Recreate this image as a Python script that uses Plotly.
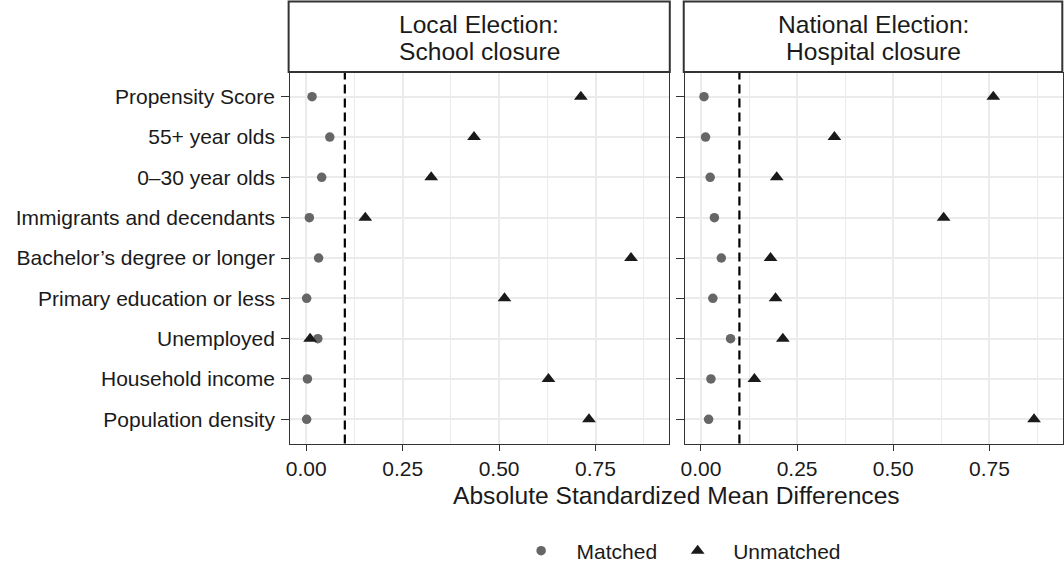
import plotly.graph_objects as go

# ---------------- data ----------------
covariates = [
    "Propensity Score",
    "55+ year olds",
    "0\u201330 year olds",
    "Immigrants and decendants",
    "Bachelor\u2019s degree or longer",
    "Primary education or less",
    "Unemployed",
    "Household income",
    "Population density",
]
panel_titles = [["Local Election:", "School closure"], ["National Election:", "Hospital closure"]]

local_matched = [0.015, 0.061, 0.040, 0.008, 0.032, 0.001, 0.030, 0.003, 0.001]
local_unmatched = [0.712, 0.435, 0.324, 0.153, 0.842, 0.514, 0.010, 0.628, 0.733]
national_matched = [0.008, 0.012, 0.024, 0.035, 0.053, 0.031, 0.077, 0.026, 0.020]
national_unmatched = [0.760, 0.347, 0.197, 0.631, 0.181, 0.194, 0.213, 0.139, 0.866]

threshold = 0.1
x_ticks = [0.0, 0.25, 0.5, 0.75]
x_tick_labels = ["0.00", "0.25", "0.50", "0.75"]
x_title = "Absolute Standardized Mean Differences"
legend_names = ["Matched", "Unmatched"]

# ---------------- styling ----------------
W, H = 1064, 572
FONT = "Liberation Sans, Arial, Helvetica, sans-serif"
TXT = "#1a1a1a"
GRID = "#ebebeb"
BORDER = "#333333"
C_MATCH = "#666666"
C_UNMATCH = "#1a1a1a"

def px_x(p):
    return p / W

def px_y(p):
    return 1 - p / H

panel_top, panel_bot = 72.5, 443.5
panels_px = [(287.3, 667.3), (683.5, 1062.5)]
xrange_ = [-0.0416, 0.94]

fig = go.Figure()

series = [(local_matched, local_unmatched), (national_matched, national_unmatched)]
for i, (m, u) in enumerate(series):
    xa = "x" if i == 0 else "x2"
    ya = "y" if i == 0 else "y2"
    fig.add_trace(go.Scatter(
        x=m, y=covariates, mode="markers", xaxis=xa, yaxis=ya,
        name=legend_names[0], legendgroup="m", showlegend=(i == 0),
        marker=dict(symbol="circle", size=9.5, color=C_MATCH),
        hoverinfo="skip"))
    fig.add_trace(go.Scatter(
        x=u, y=covariates, mode="markers", xaxis=xa, yaxis=ya,
        name=legend_names[1], legendgroup="u", showlegend=(i == 0),
        marker=dict(symbol="triangle-up", size=12, color=C_UNMATCH),
        hoverinfo="skip"))

cat_order = list(reversed(covariates))

def xaxis_cfg(dom):
    return dict(
        domain=[px_x(dom[0]), px_x(dom[1])], range=xrange_,
        tickvals=x_ticks, ticktext=x_tick_labels,
        ticks="outside", ticklen=6, tickwidth=1.2, tickcolor=BORDER,
        tickfont=dict(family=FONT, size=21, color=TXT),
        showgrid=True, gridcolor=GRID, gridwidth=1.6,
        minor=dict(dtick=0.25, tick0=0.125, showgrid=True, gridcolor=GRID, gridwidth=0.8, ticks=""),
        zeroline=False, showline=True, mirror=True, linecolor=BORDER, linewidth=1.2,
        fixedrange=True,
    )

def yaxis_cfg(anchor, labels):
    return dict(
        domain=[px_y(panel_bot), px_y(panel_top)], anchor=anchor,
        type="category", categoryorder="array", categoryarray=cat_order,
        range=[-0.6, 8.6],
        ticks="outside", ticklen=8, tickwidth=1.2, tickcolor=BORDER,
        ticklabelstandoff=2,
        showticklabels=labels,
        tickfont=dict(family=FONT, size=21, color=TXT),
        showgrid=True, gridcolor=GRID, gridwidth=1.6,
        zeroline=False, showline=True, mirror=True, linecolor=BORDER, linewidth=1.2,
        fixedrange=True,
    )

fig.update_layout(
    width=W, height=H,
    margin=dict(l=0, r=0, t=0, b=0),
    paper_bgcolor="white", plot_bgcolor="white",
    font=dict(family=FONT, color=TXT),
    xaxis=dict(anchor="y", **xaxis_cfg(panels_px[0])),
    xaxis2=dict(anchor="y2", **xaxis_cfg(panels_px[1])),
    yaxis=yaxis_cfg("x", True),
    yaxis2=yaxis_cfg("x2", False),
    showlegend=True,
    legend=dict(
        orientation="h", xanchor="left", yanchor="middle",
        x=px_x(503.5), y=px_y(551),
        font=dict(family=FONT, size=21, color=TXT),
        itemwidth=61,
        bgcolor="rgba(0,0,0,0)", borderwidth=0,
    ),
)

# dashed threshold lines
for xr, yr in [("x", "y"), ("x2", "y2")]:
    fig.add_shape(type="line", xref=xr, yref=f"{yr} domain",
                  x0=threshold, x1=threshold, y0=0, y1=1,
                  line=dict(color="black", width=2.2, dash="9px,5px"), layer="above")

# strips
strips_px = [(285.7, 668.3), (682.3, 1062.3)]
for (sx0, sx1), lines in zip(strips_px, panel_titles):
    fig.add_shape(type="rect", xref="paper", yref="paper",
                  x0=px_x(sx0), x1=px_x(sx1), y0=px_y(72), y1=px_y(1.5),
                  line=dict(color=BORDER, width=2), fillcolor="white")
    cx = px_x((sx0 + sx1) / 2)
    for ln, yy in zip(lines, [24, 51]):
        fig.add_annotation(text=ln, x=cx, y=px_y(yy), xref="paper", yref="paper",
                           xanchor="center", yanchor="middle", showarrow=False,
                           font=dict(family=FONT, size=24.6, color=TXT))

fig.add_annotation(text=x_title, x=px_x(675), y=px_y(495), xref="paper", yref="paper",
                   xanchor="center", yanchor="middle", showarrow=False,
                   font=dict(family=FONT, size=24.6, color=TXT))

# remove the default 8px page margin so the figure sits at the window origin
fig.write_html("out.html", config={"displayModeBar": False, "staticPlot": False},
               post_script="document.body.style.margin='0';")
